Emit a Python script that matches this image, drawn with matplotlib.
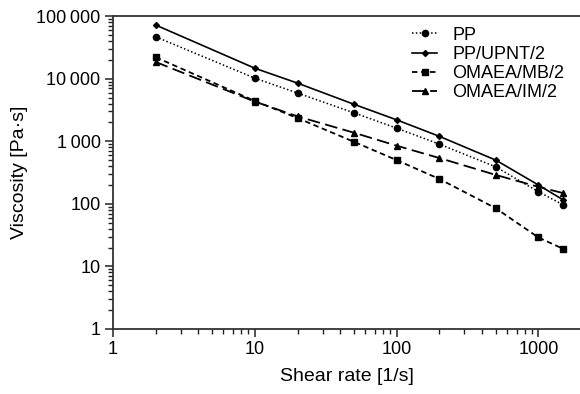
import matplotlib
matplotlib.use('Agg')
import matplotlib.pyplot as plt
from matplotlib.ticker import FixedLocator, LogLocator, NullFormatter

plt.rcParams['font.family'] = ['Liberation Sans', 'DejaVu Sans']

# Data
shear_rate = [2, 10, 20, 50, 100, 200, 500, 1000, 1500]
pp = [46700, 10200, 5900, 2850, 1620, 900, 390, 156, 96]
pp_upnt = [72000, 14700, 8500, 3900, 2200, 1200, 500, 200, 115]
omaea_mb = [22000, 4400, 2350, 980, 500, 250, 85, 29, 19]
omaea_im = [18500, 4300, 2500, 1370, 850, 540, 290, 187, 148]

y_ticks = [1, 10, 100, 1000, 10000, 100000]
y_labels = ['1', '10', '100', '1\u2009000', '10\u2009000', '100\u2009000']
x_ticks = [1, 10, 100, 1000]
x_labels = ['1', '10', '100', '1000']

fig = plt.figure(figsize=(5.8, 3.94), dpi=100)
ax = fig.add_axes([0.195, 0.165, 0.805, 0.794])

ax.plot(shear_rate, pp, color='black', linestyle=(0, (1, 1.5)), linewidth=1.1,
        marker='o', markersize=4.5, label='PP')
ax.plot(shear_rate, pp_upnt, color='black', linestyle='-', linewidth=1.2,
        marker='D', markersize=3, label='PP/UPNT/2')
ax.plot(shear_rate, omaea_mb, color='black', linestyle=(0, (3, 2)), linewidth=1.3,
        marker='s', markersize=4.5, label='OMAEA/MB/2')
ax.plot(shear_rate, omaea_im, color='black', linestyle=(0, (7, 3)), linewidth=1.3,
        marker='^', markersize=4.5, label='OMAEA/IM/2')

ax.set_xscale('log')
ax.set_yscale('log')
ax.set_xlim(1, 1963)
ax.set_ylim(1, 100000)

ax.xaxis.set_major_locator(FixedLocator(x_ticks))
ax.set_xticklabels(x_labels)
ax.yaxis.set_major_locator(FixedLocator(y_ticks))
ax.set_yticklabels(y_labels)
ax.xaxis.set_minor_locator(LogLocator(base=10, subs=range(2, 10), numticks=20))
ax.yaxis.set_minor_locator(LogLocator(base=10, subs=range(2, 10), numticks=20))
ax.xaxis.set_minor_formatter(NullFormatter())
ax.yaxis.set_minor_formatter(NullFormatter())

ax.tick_params(which='major', direction='out', length=6, width=1.1, labelsize=13,
               color='#222222', pad=3)
ax.tick_params(which='minor', direction='out', length=3.5, width=1.0, color='#222222')

ax.spines['right'].set_visible(False)
for s in ['left', 'bottom', 'top']:
    ax.spines[s].set_linewidth(1.3)
    ax.spines[s].set_color('#333333')

ax.set_xlabel('Shear rate [1/s]', fontsize=14, labelpad=7)
ax.set_ylabel('Viscosity [Pa\u00b7s]', fontsize=14, labelpad=6)

ax.legend(loc='upper left', bbox_to_anchor=(0.64, 0.966), frameon=False,
          fontsize=13, handlelength=1.4, handletextpad=0.85, labelspacing=0.12,
          borderaxespad=0, borderpad=0)

fig.savefig('out.png', dpi=100)
